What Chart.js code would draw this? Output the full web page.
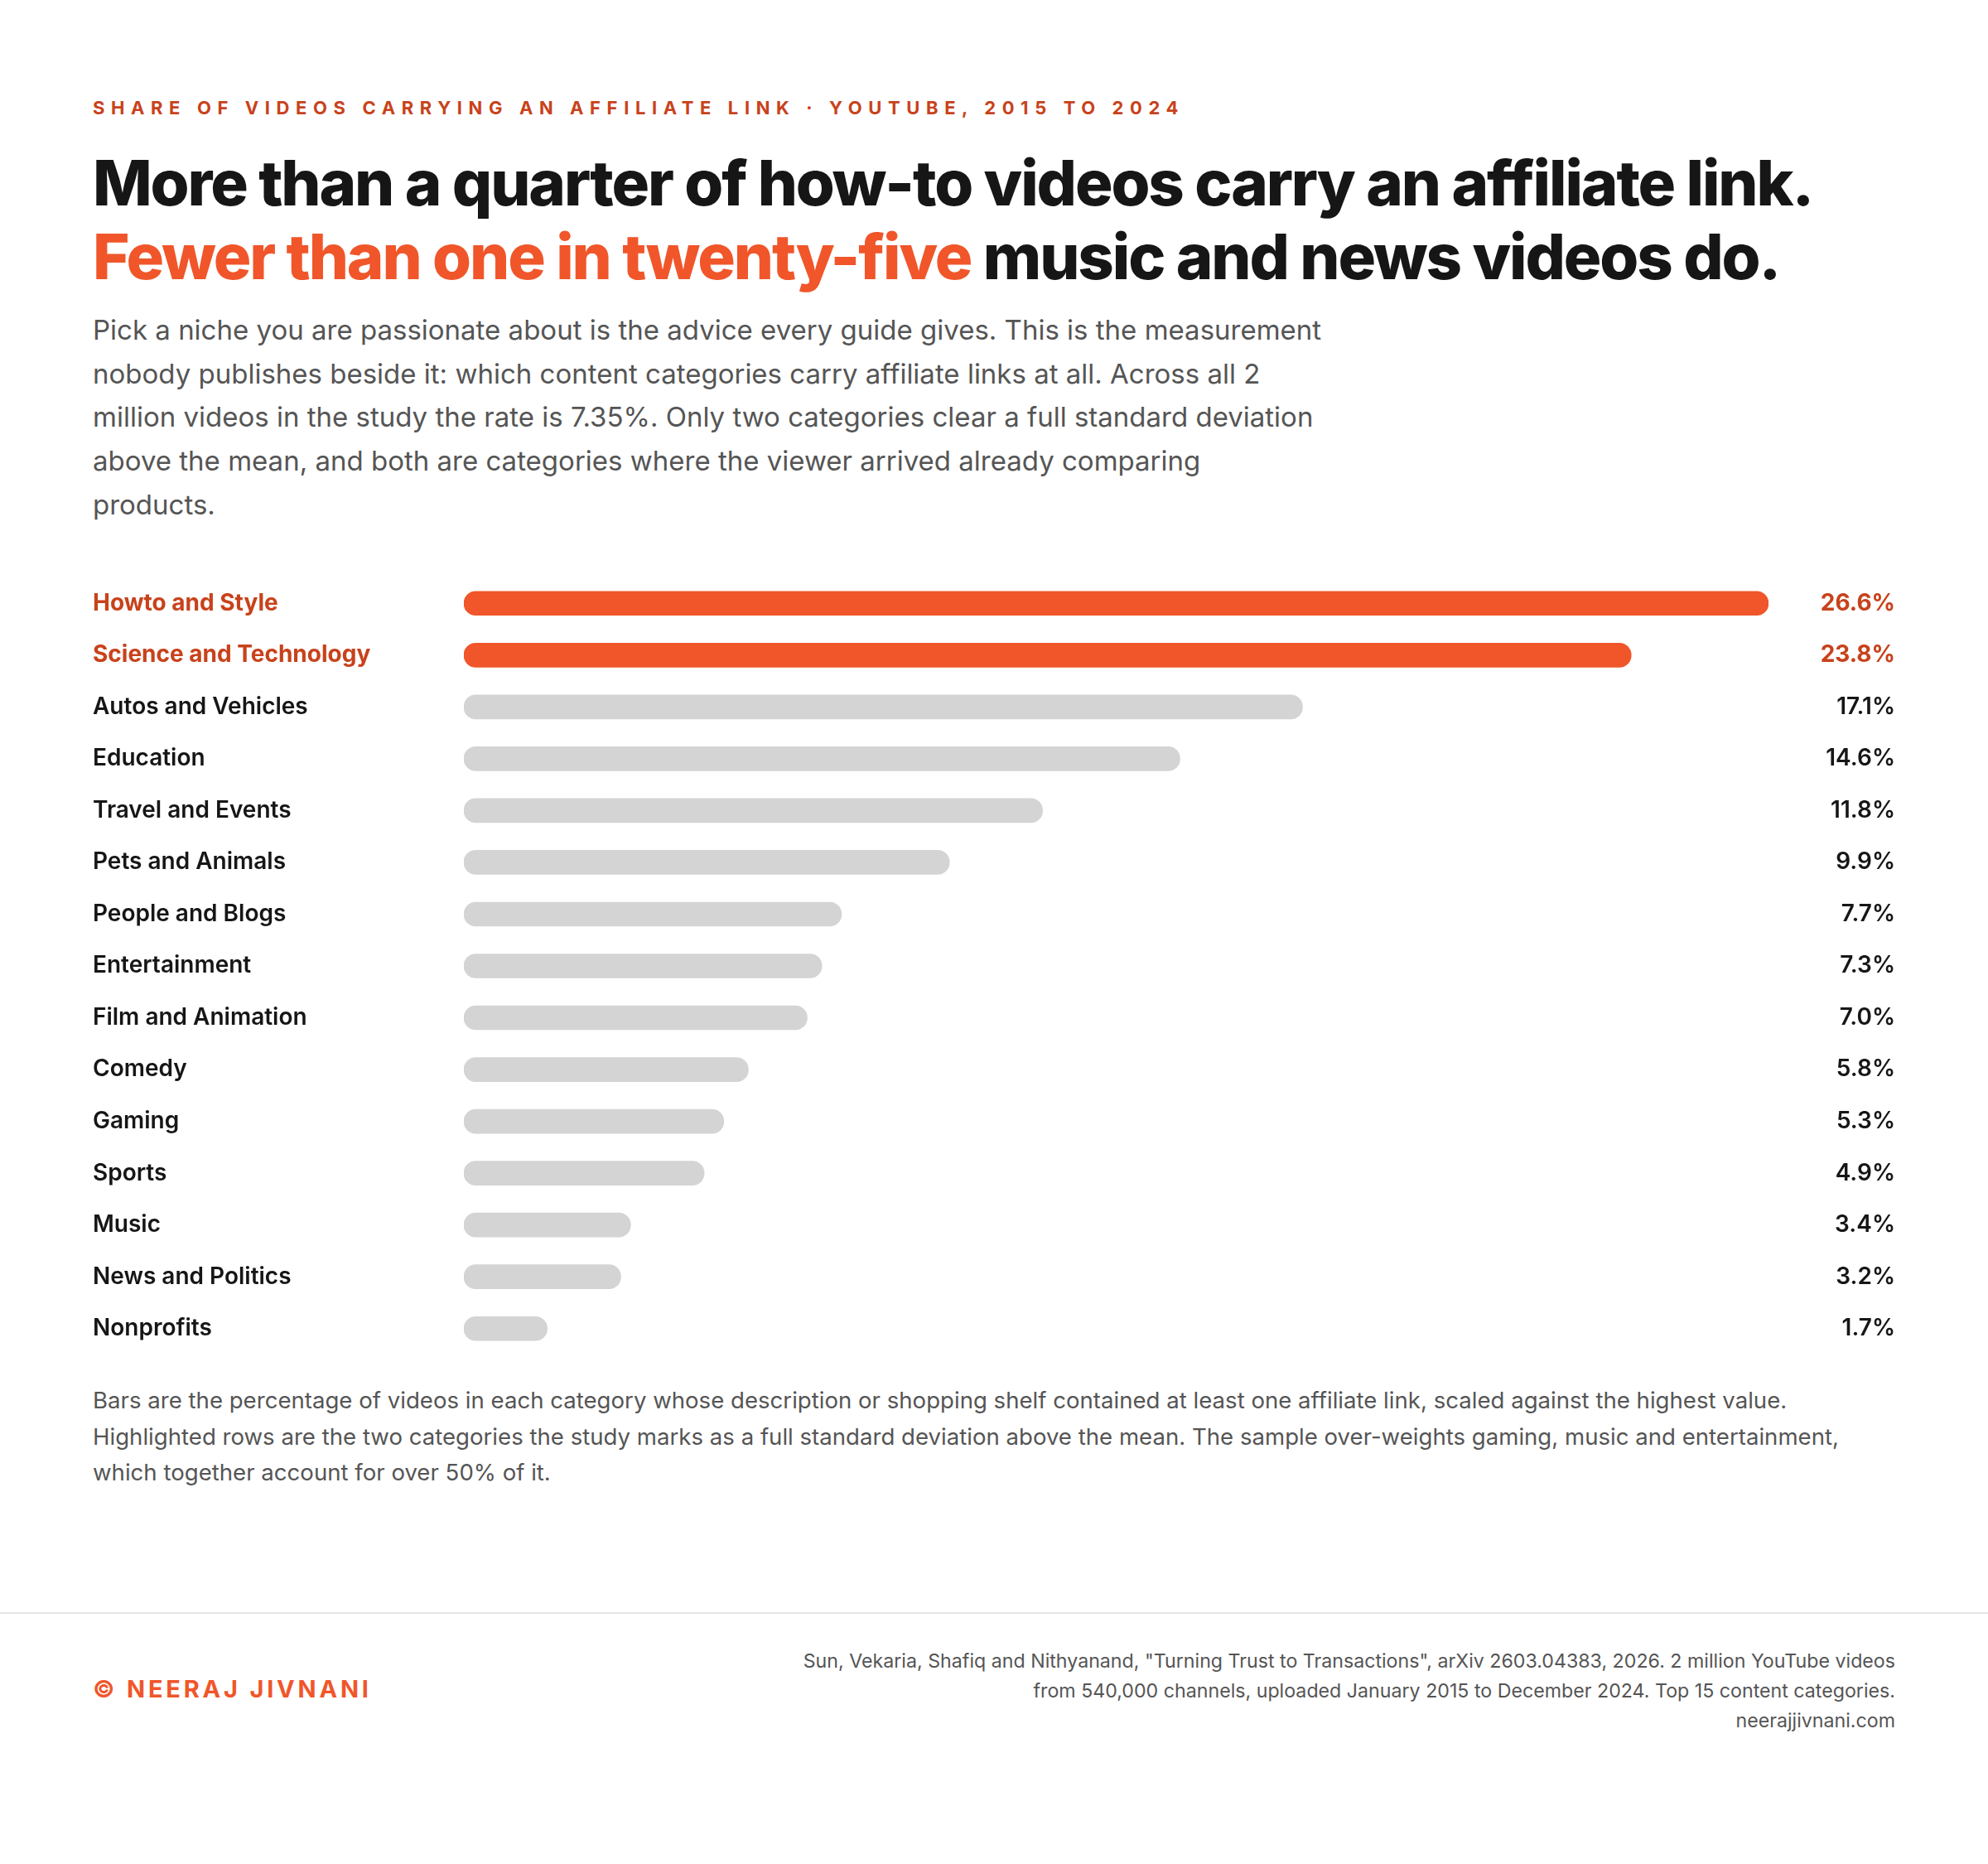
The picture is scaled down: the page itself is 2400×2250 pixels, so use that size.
<!DOCTYPE html>
<html>
<head>
<meta charset="utf-8">
<title>Affiliate links by YouTube category</title>
<script src="https://cdn.jsdelivr.net/npm/chart.js@4.4.1/dist/chart.umd.min.js"></script>
<style>
  html, body { margin: 0; padding: 0; background: #fff; }
  body { width: 2400px; height: 2250px; position: relative; overflow: hidden; font-family: Inter, "Noto Sans", sans-serif; }
  .kicker { position: absolute; left: 112px; top: 115px; line-height: 30px; font-size: 22px; font-weight: 700; letter-spacing: 7.6px; color: #c8421b; white-space: nowrap; }
  .title { position: absolute; left: 112px; top: 176px; font-size: 76px; line-height: 89px; font-weight: 800; letter-spacing: -0.028em; color: #161616; white-space: nowrap; }
  .title .hl { color: #f0562a; }
  .lede { position: absolute; left: 112px; top: 372px; font-size: 33px; line-height: 52.7px; color: #555; white-space: nowrap; }
  #chartBox { position: absolute; left: 112px; top: 697px; width: 2176px; height: 938px; }
  .note { position: absolute; left: 112px; top: 1669px; font-size: 27.6px; line-height: 43.5px; color: #555; white-space: nowrap; }
  .rule { position: absolute; left: 0; top: 1946px; width: 2400px; height: 2px; background: #e6e6e6; }
  .brand { position: absolute; left: 112px; top: 2024px; line-height: 30px; font-size: 29px; font-weight: 700; letter-spacing: 3.8px; color: #f0562a; white-space: nowrap; }
  .source { position: absolute; right: 112px; top: 1987px; font-size: 23.2px; line-height: 36px; color: #555; text-align: right; white-space: nowrap; }
</style>
</head>
<body>
  <div class="kicker">SHARE OF VIDEOS CARRYING AN AFFILIATE LINK · YOUTUBE, 2015 TO 2024</div>
  <div class="title">More than a quarter of how-to videos carry an affiliate link.<br><span class="hl">Fewer than one in twenty-five</span> music and news videos do.</div>
  <div class="lede">Pick a niche you are passionate about is the advice every guide gives. This is the measurement<br>nobody publishes beside it: which content categories carry affiliate links at all. Across all 2<br>million videos in the study the rate is 7.35%. Only two categories clear a full standard deviation<br>above the mean, and both are categories where the viewer arrived already comparing<br>products.</div>

  <div id="chartBox"><canvas id="chart"></canvas></div>

  <div class="note">Bars are the percentage of videos in each category whose description or shopping shelf contained at least one affiliate link, scaled against the highest value.<br>Highlighted rows are the two categories the study marks as a full standard deviation above the mean. The sample over-weights gaming, music and entertainment,<br>which together account for over 50% of it.</div>

  <div class="rule"></div>
  <div class="brand">© NEERAJ JIVNANI</div>
  <div class="source">Sun, Vekaria, Shafiq and Nithyanand, "Turning Trust to Transactions", arXiv 2603.04383, 2026. 2 million YouTube videos<br>from 540,000 channels, uploaded January 2015 to December 2024. Top 15 content categories.<br>neerajjivnani.com</div>

<script>
// categories, top to bottom
const categories = [
  "Howto and Style", "Science and Technology", "Autos and Vehicles", "Education",
  "Travel and Events", "Pets and Animals", "People and Blogs", "Entertainment",
  "Film and Animation", "Comedy", "Gaming", "Sports", "Music", "News and Politics", "Nonprofits"
];
// % of videos with at least one affiliate link
const shares = [26.6, 23.8, 17.1, 14.6, 11.8, 9.9, 7.7, 7.3, 7.0, 5.8, 5.3, 4.9, 3.4, 3.2, 1.7];
// the two rows a full standard deviation above the mean
const highlighted = ["Howto and Style", "Science and Technology"];
// right-hand value labels
const valueLabels = shares.map(v => v.toFixed(1) + "%");

const ORANGE = "#f0562a";
const ORANGE_TEXT = "#c8421b";
const GREY = "#d4d4d4";
const INK = "#161616";

const isHot = i => highlighted.includes(categories[i]);
const tickFont = c => ({ family: "Inter", size: 28, weight: isHot(c.index) ? "700" : "600" });

const ctx = document.getElementById("chart").getContext("2d");
new Chart(ctx, {
  type: "bar",
  data: {
    labels: categories,
    datasets: [{
      data: shares,
      xAxisID: "x",
      yAxisID: "y",
      backgroundColor: categories.map((c, i) => isHot(i) ? ORANGE : GREY),
      borderRadius: 15,
      borderSkipped: false,
      barThickness: 29
    }]
  },
  options: {
    indexAxis: "y",
    responsive: true,
    maintainAspectRatio: false,
    animation: false,
    layout: { padding: 0 },
    plugins: { legend: { display: false }, tooltip: { enabled: false } },
    scales: {
      x: { display: false, min: 0, max: 26.6 },
      y: {
        position: "left",
        offset: true,
        grid: { display: false },
        border: { display: false },
        ticks: {
          crossAlign: "far",
          padding: 0,
          font: tickFont,
          color: c => isHot(c.index) ? ORANGE_TEXT : INK
        },
        afterFit: s => { s.width = 448; s.paddingTop = 0; s.paddingBottom = 0; }
      },
      y2: {
        type: "category",
        labels: valueLabels,
        position: "right",
        offset: true,
        grid: { display: false },
        border: { display: false },
        ticks: {
          crossAlign: "far",
          padding: 0,
          font: tickFont,
          color: c => isHot(c.index) ? ORANGE_TEXT : INK
        },
        afterFit: s => { s.width = 153; s.paddingTop = 0; s.paddingBottom = 0; }
      }
    }
  }
});
</script>
</body>
</html>
